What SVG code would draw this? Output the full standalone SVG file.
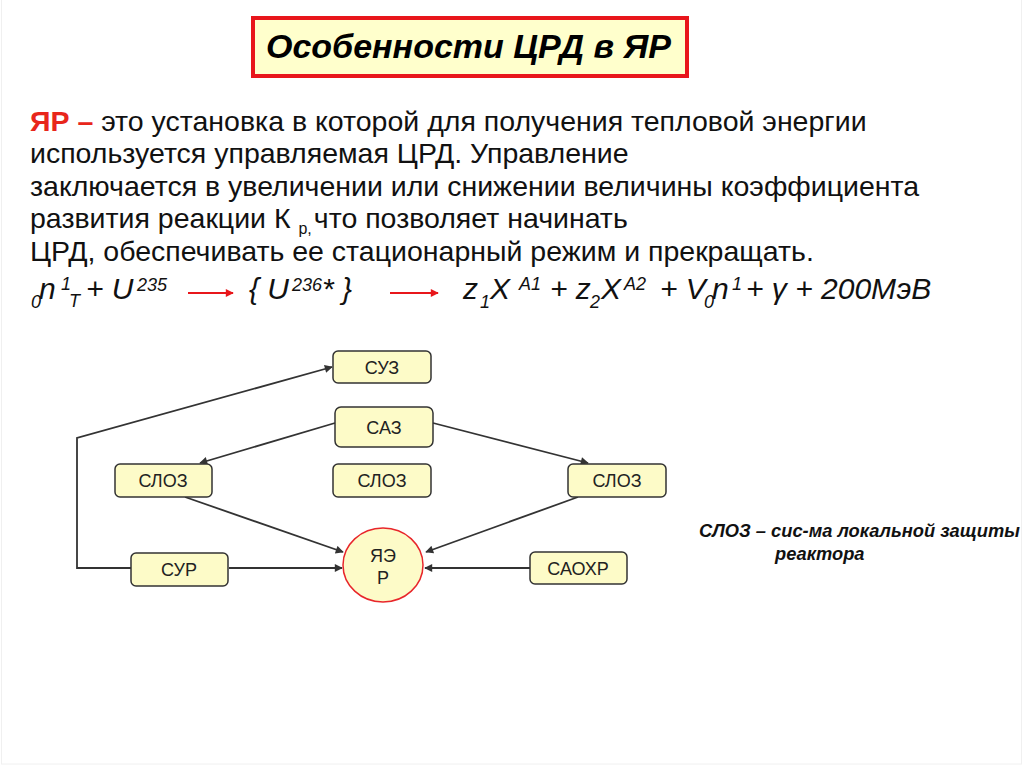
<svg xmlns="http://www.w3.org/2000/svg" width="1024" height="767" viewBox="0 0 1024 767">
<defs>
<marker id="ah" viewBox="0 0 10 10" refX="9" refY="5" markerWidth="9" markerHeight="8" markerUnits="userSpaceOnUse" orient="auto"><path d="M0,0 L10,5 L0,10 z" fill="#333"/></marker>
<marker id="ahr" viewBox="0 0 10 10" refX="9" refY="5" markerWidth="9" markerHeight="8" markerUnits="userSpaceOnUse" orient="auto"><path d="M0,0 L10,5 L0,10 z" fill="#e8161b"/></marker>
<style>
.body{font-family:"Liberation Sans",Arial,sans-serif;font-size:28.5px;fill:#111}
.eq{font-family:"Liberation Sans",Arial,sans-serif;font-style:italic;font-size:30px;fill:#111}
.sm{font-size:18px}
.bsm{font-size:16px}
.node rect{fill:#fdfbc8;stroke:#333;stroke-width:1.5}
.node text{font-family:"Liberation Sans",Arial,sans-serif;font-size:18px;fill:#222;text-anchor:middle}
.conn line,.conn polyline{stroke:#333;stroke-width:1.8;fill:none}
.legend{font-family:"Liberation Sans",Arial,sans-serif;font-style:italic;font-weight:bold;font-size:18.3px;fill:#111}
</style>
</defs>
<rect x="0" y="0" width="1024" height="767" fill="#fff"/>
<rect x="1.5" y="-1" width="1020" height="765" fill="none" stroke="#f0f0f0" stroke-width="1"/>

<g id="title">
<rect x="253" y="18" width="434" height="58" fill="#ffffcc" stroke="#e8161b" stroke-width="4"/>
<text x="266" y="58" font-family="Liberation Sans,Arial,sans-serif" font-size="34" font-style="italic" font-weight="bold" fill="#000">Особенности ЦРД в ЯР</text>
</g>

<g id="paragraph">
<text class="body" x="30" y="131"><tspan fill="#e8261b" font-weight="bold">ЯР –</tspan> это установка в которой для получения тепловой энергии</text>
<text class="body" x="30" y="163">используется управляемая ЦРД. Управление</text>
<text class="body" x="30" y="196">заключается в увеличении или снижении величины коэффициента</text>
<text class="body" x="30" y="228">развития реакции К <tspan class="bsm" dy="6">р,</tspan><tspan dx="2" dy="-6">что позволяет начинать</tspan></text>
<text class="body" x="30" y="261">ЦРД, обеспечивать ее стационарный режим и прекращать.</text>
</g>

<g id="equation">
<text class="eq"><tspan class="sm" x="31" y="308">0</tspan><tspan x="39" y="299">n</tspan><tspan class="sm" x="61" y="290">1</tspan><tspan class="sm" x="69" y="307">T</tspan><tspan x="86" y="299">+ U</tspan><tspan class="sm" x="137" y="291">235</tspan></text>
<line x1="188" y1="293" x2="233" y2="293" stroke="#e8161b" stroke-width="1.8" marker-end="url(#ahr)"/>
<text class="eq"><tspan x="249" y="299">{ U</tspan><tspan class="sm" x="292" y="291">236</tspan><tspan x="322" y="299">* }</tspan></text>
<line x1="390" y1="293" x2="438" y2="293" stroke="#e8161b" stroke-width="1.8" marker-end="url(#ahr)"/>
<text class="eq"><tspan x="463" y="299">z</tspan><tspan class="sm" x="480" y="308">1</tspan><tspan x="490" y="299">X</tspan><tspan class="sm" x="519" y="290">A1</tspan><tspan x="550" y="299">+ z</tspan><tspan class="sm" x="590" y="308">2</tspan><tspan x="601" y="299">X</tspan><tspan class="sm" x="624" y="290">A2</tspan><tspan x="660" y="299">+ V</tspan><tspan class="sm" x="704" y="308">0</tspan><tspan x="712" y="299">n</tspan><tspan class="sm" x="732" y="290">1</tspan><tspan x="746" y="299">+ γ + 200МэВ</tspan></text>
</g>

<g class="conn" id="connectors">
<polyline points="131,568 77,568 77,438 332,367" stroke-width="1.2" marker-end="url(#ah)"/>
<line x1="335" y1="423" x2="200" y2="463" marker-end="url(#ah)"/>
<line x1="433" y1="423" x2="588" y2="463" marker-end="url(#ah)"/>
<line x1="185" y1="497" x2="343" y2="552" marker-end="url(#ah)"/>
<line x1="578" y1="497" x2="426" y2="552" marker-end="url(#ah)"/>
<line x1="229" y1="568" x2="342" y2="568" marker-end="url(#ah)"/>
<line x1="530" y1="568" x2="425" y2="568" marker-end="url(#ah)"/>
</g>

<g class="node" id="node-suz"><rect x="333" y="351" width="98" height="32" rx="5"/><text x="382" y="374">СУЗ</text></g>
<g class="node" id="node-saz"><rect x="335" y="407" width="98" height="40" rx="6"/><text x="384" y="434">САЗ</text></g>
<g class="node" id="node-sloz-left"><rect x="115" y="464" width="97" height="33" rx="5"/><text x="163" y="487">СЛОЗ</text></g>
<g class="node" id="node-sloz-center"><rect x="333" y="464" width="98" height="33" rx="5"/><text x="382" y="487">СЛОЗ</text></g>
<g class="node" id="node-sloz-right"><rect x="568" y="464" width="98" height="33" rx="5"/><text x="617" y="487">СЛОЗ</text></g>
<g class="node" id="node-sur"><rect x="131" y="553" width="97" height="33" rx="5"/><text x="179" y="576">СУР</text></g>
<g class="node" id="node-saohr"><rect x="530" y="552" width="97" height="32" rx="5"/><text x="578" y="575">САОХР</text></g>
<g class="node" id="node-yaer"><ellipse cx="383" cy="565" rx="40" ry="37" fill="#fdfbc8" stroke="#e8262b" stroke-width="1.5"/><text x="383" y="562">ЯЭ</text><text x="383" y="584">Р</text></g>

<g id="legend">
<text class="legend" x="699" y="537">СЛОЗ – сис-ма локальной защиты</text>
<text class="legend" x="775" y="560">реактора</text>
</g>
</svg>
